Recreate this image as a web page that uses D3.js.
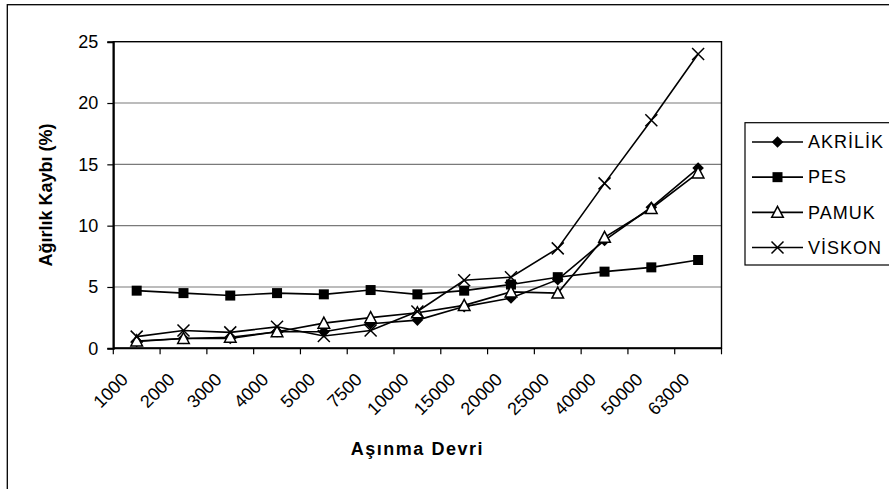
<!DOCTYPE html>
<html>
<head>
<meta charset="utf-8">
<script src="https://cdn.jsdelivr.net/npm/d3@7"></script>
<style>
  html, body { margin: 0; padding: 0; background: #fff; }
  svg { display: block; font-family: "Liberation Sans", Arial, sans-serif; }
</style>
</head>
<body>
<svg id="chart" width="889" height="489"></svg>
<script>
// Wear cycles (Aşınma Devri) and weight loss (%) per fabric
const cycles = ["1000", "2000", "3000", "4000", "5000", "7500", "10000", "15000", "20000", "25000", "40000", "50000", "63000"];
const akrilik = [0.55, 0.8, 0.8, 1.35, 1.35, 2.0, 2.3, 3.4, 4.1, 5.6, 8.8, 11.5, 14.7];
const pes     = [4.7, 4.5, 4.3, 4.5, 4.4, 4.75, 4.4, 4.7, 5.2, 5.8, 6.25, 6.6, 7.2];
const pamuk   = [0.6, 0.8, 0.9, 1.35, 2.05, 2.5, 2.9, 3.5, 4.6, 4.5, 9.05, 11.4, 14.3];
const viskon  = [0.95, 1.45, 1.3, 1.75, 1.0, 1.45, 3.0, 5.55, 5.8, 8.15, 13.45, 18.6, 24.0];
const seriesNames = ["AKRİLİK", "PES", "PAMUK", "VİSKON"];
const seriesMarkers = ["diamond", "square", "triangle", "cross"];
const yTicks = [0, 5, 10, 15, 20, 25];
const yTitle = "Ağırlık Kaybı (%)";
const xTitle = "Aşınma Devri";

const series = [akrilik, pes, pamuk, viskon].map((values, i) => ({
  name: seriesNames[i], marker: seriesMarkers[i], values
}));

const svg = d3.select("#chart");
const plot = { left: 113.3, right: 721.5, top: 41.7, bottom: 348.3 };

// outer chart frame (extends past the visible page on the right and bottom)
svg.append("rect")
  .attr("x", 7.3).attr("y", 4.7).attr("width", 920).attr("height", 520)
  .attr("fill", "none").attr("stroke", "#000").attr("stroke-width", 1.3);

const x = d3.scaleBand().domain(cycles).range([plot.left, plot.right]);
const y = d3.scaleLinear().domain([0, 25]).range([plot.bottom, plot.top]);

// horizontal gridlines
svg.append("g").selectAll("line").data(yTicks.filter(t => t > 0 && t < 25)).join("line")
  .attr("x1", plot.left).attr("x2", plot.right)
  .attr("y1", d => y(d)).attr("y2", d => y(d))
  .attr("stroke", "#7a7a7a").attr("stroke-width", 1.2);

// plot area border
svg.append("rect")
  .attr("x", plot.left).attr("y", plot.top)
  .attr("width", plot.right - plot.left).attr("height", plot.bottom - plot.top)
  .attr("fill", "none").attr("stroke", "#000").attr("stroke-width", 1.4);

// y axis
const yAxis = svg.append("g").attr("transform", `translate(${plot.left},0)`)
  .call(d3.axisLeft(y).tickValues(yTicks).tickSize(6).tickPadding(9));
yAxis.select(".domain").attr("stroke", "#000").attr("stroke-width", 2);
yAxis.selectAll(".tick line").attr("stroke", "#000").attr("stroke-width", 1.2);
yAxis.selectAll(".tick text").attr("font-size", 18).attr("fill", "#000")
  .attr("font-family", "Liberation Sans, Arial, sans-serif");

// x axis: ticks sit on the category boundaries
const bounds = cycles.map(c => x(c)).concat([plot.right]);
const xAxisG = svg.append("g");
xAxisG.append("line")
  .attr("x1", plot.left).attr("x2", plot.right)
  .attr("y1", plot.bottom).attr("y2", plot.bottom)
  .attr("stroke", "#000").attr("stroke-width", 2);
xAxisG.selectAll("line.tk").data(bounds).join("line").attr("class", "tk")
  .attr("x1", d => d).attr("x2", d => d)
  .attr("y1", plot.bottom).attr("y2", plot.bottom + 6)
  .attr("stroke", "#000").attr("stroke-width", 1.2);
xAxisG.selectAll("text").data(cycles).join("text")
  .attr("transform", d => `translate(${x(d) + x.bandwidth() / 2 - 12},${plot.bottom + 28}) rotate(-45)`)
  .attr("text-anchor", "end").attr("dy", "0.35em")
  .attr("font-size", 18).attr("fill", "#000")
  .text(d => d);

// axis titles
svg.append("text")
  .attr("transform", `translate(52,${(plot.top + plot.bottom) / 2}) rotate(-90)`)
  .attr("text-anchor", "middle").attr("font-size", 18).attr("font-weight", "bold")
  .text(yTitle);
svg.append("text")
  .attr("x", (plot.left + plot.right) / 2).attr("y", 455)
  .attr("text-anchor", "middle").attr("font-size", 18).attr("font-weight", "bold")
  .attr("letter-spacing", 1.5)
  .text(xTitle);

// marker shapes
function drawMarker(g, type) {
  if (type === "diamond") {
    g.append("path").attr("d", "M0,-5.8L5.8,0L0,5.8L-5.8,0Z").attr("fill", "#000");
  } else if (type === "square") {
    g.append("rect").attr("x", -5).attr("y", -5).attr("width", 10).attr("height", 10).attr("fill", "#000");
  } else if (type === "triangle") {
    g.append("path").attr("d", "M0,-6L5.8,5L-5.8,5Z")
      .attr("fill", "#fff").attr("stroke", "#000").attr("stroke-width", 1.5);
  } else {
    g.append("path").attr("d", "M-6,-6L6,6M-6,6L6,-6")
      .attr("fill", "none").attr("stroke", "#000").attr("stroke-width", 1.5);
  }
}

const cx = c => x(c) + x.bandwidth() / 2;
const line = d3.line().x((d, i) => cx(cycles[i])).y(d => y(d));

series.forEach(s => {
  svg.append("path").datum(s.values)
    .attr("d", line).attr("fill", "none")
    .attr("stroke", "#000").attr("stroke-width", 1.6);
  s.values.forEach((v, i) => {
    const g = svg.append("g").attr("transform", `translate(${cx(cycles[i])},${y(v)})`);
    drawMarker(g, s.marker);
  });
});

// legend
const legend = svg.append("g");
legend.append("rect")
  .attr("x", 745).attr("y", 122.7).attr("width", 200).attr("height", 142.3)
  .attr("fill", "#fff").attr("stroke", "#000").attr("stroke-width", 1.2);
const legendY = d3.scalePoint().domain(seriesNames).range([142, 247.5]);
series.forEach(s => {
  const ly = legendY(s.name);
  legend.append("line").attr("x1", 752).attr("x2", 803).attr("y1", ly).attr("y2", ly)
    .attr("stroke", "#000").attr("stroke-width", 1.6);
  const g = legend.append("g").attr("transform", `translate(777.5,${ly})`);
  drawMarker(g, s.marker);
  legend.append("text").attr("x", 808).attr("y", ly).attr("dy", "0.35em")
    .attr("font-size", 18).attr("letter-spacing", 1).attr("fill", "#000").text(s.name);
});
</script>
</body>
</html>
